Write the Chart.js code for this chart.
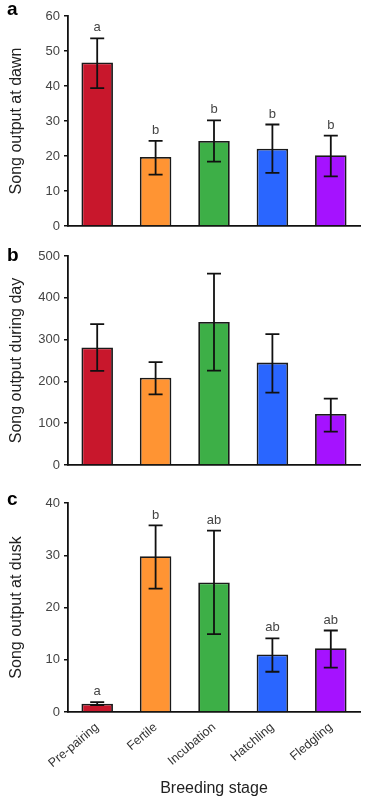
<!DOCTYPE html>
<html lang="en">
<head>
  <meta charset="UTF-8" />
  <title>Song output by breeding stage</title>
  <script src="https://cdn.jsdelivr.net/npm/chart.js"></script>
  <style>
    html, body { margin: 0; padding: 0; background: #fff; }
    body { width: 370px; height: 798px; position: relative; overflow: hidden; font-family: "Liberation Sans", Arial, sans-serif; }
    .panel { position: absolute; left: 0; width: 370px; }
    .tag { position: absolute; left: 7px; font-weight: bold; font-size: 19px; color: #000; }
  </style>
</head>
<body>
  <div class="panel" style="top:0;height:240px"><canvas id="dawnChart"></canvas></div>
  <div class="panel" style="top:240px;height:250px"><canvas id="dayChart"></canvas></div>
  <div class="panel" style="top:490px;height:308px"><canvas id="duskChart"></canvas></div>
  <div class="tag" style="top:-2px">a</div>
  <div class="tag" style="top:244px">b</div>
  <div class="tag" style="top:488px">c</div>

  <script>
    // data
    const stages = ["Pre-pairing", "Fertile", "Incubation", "Hatchling", "Fledgling"];
    const barColors = ["#c8172c", "#ff9433", "#3daf47", "#2a66ff", "#a512ff"];

    const dawnMean = [46.7, 19.7, 24.3, 22.1, 20.2];
    const dawnLow = [39.4, 14.7, 18.4, 15.2, 14.2];
    const dawnHigh = [53.6, 24.3, 30.2, 29.0, 25.8];
    const dawnLetters = ["a", "b", "b", "b", "b"];

    const dayMean = [281, 209, 342, 245, 122];
    const dayLow = [225, 169, 226, 173, 80];
    const dayHigh = [337, 246, 458, 313, 159];

    const duskMean = [1.6, 29.8, 24.8, 11.0, 12.2];
    const duskLow = [1.3, 23.6, 14.9, 7.7, 8.5];
    const duskHigh = [1.9, 35.7, 34.7, 14.1, 15.6];
    const duskLetters = ["a", "b", "ab", "ab", "ab"];

    const dawnTicks = [0, 10, 20, 30, 40, 50, 60];
    const dayTicks = [0, 100, 200, 300, 400, 500];
    const duskTicks = [0, 10, 20, 30, 40];

    const FONT = "'Liberation Sans', Arial, sans-serif";

    // error bars + significance letters
    const errorBars = {
      id: "errorBars",
      afterDatasetsDraw(chart, args, opts) {
        const { ctx, scales: { x, y } } = chart;
        ctx.save();
        ctx.strokeStyle = "#111";
        ctx.lineWidth = 1.8;
        opts.low.forEach((lo, i) => {
          const cx = x.getPixelForValue(i);
          const yl = y.getPixelForValue(lo);
          const yh = y.getPixelForValue(opts.high[i]);
          ctx.beginPath();
          ctx.moveTo(cx, yl); ctx.lineTo(cx, yh);
          ctx.moveTo(cx - 7, yl); ctx.lineTo(cx + 7, yl);
          ctx.moveTo(cx - 7, yh); ctx.lineTo(cx + 7, yh);
          ctx.stroke();
          if (opts.letters) {
            ctx.fillStyle = "#444";
            ctx.font = "13px " + FONT;
            ctx.textAlign = "center";
            ctx.textBaseline = "bottom";
            ctx.fillText(opts.letters[i], cx, yh - 4);
          }
        });
        ctx.restore();
      }
    };

    function makeChart(id, mean, low, high, letters, ticks, title, pad, showLabels) {
      const last = ticks[ticks.length - 1];
      return new Chart(document.getElementById(id), {
        type: "bar",
        data: {
          labels: stages,
          datasets: [{
            data: mean,
            backgroundColor: barColors,
            borderColor: "#1a1a1a",
            borderWidth: 1.8,
            barPercentage: 0.9,
            categoryPercentage: 0.6
          }]
        },
        options: {
          responsive: true,
          maintainAspectRatio: false,
          animation: false,
          layout: { padding: { top: pad.top, right: 10, bottom: pad.bottom, left: 0 } },
          plugins: {
            legend: { display: false },
            tooltip: { enabled: false },
            errorBars: { low, high, letters }
          },
          scales: {
            x: {
              grid: { display: false },
              border: { display: true, color: "#111", width: 1.8 },
              ticks: {
                display: showLabels,
                color: "#333",
                font: { family: FONT, size: 12.5 },
                minRotation: 40,
                maxRotation: 40,
                padding: 0
              },
              title: {
                display: showLabels,
                text: "Breeding stage",
                color: "#222",
                font: { family: FONT, size: 16 },
                padding: { top: 3, bottom: 0 }
              },
              afterFit: s => { s.height = pad.xHeight; }
            },
            y: {
              min: 0,
              max: last,
              afterBuildTicks: s => { s.ticks = ticks.map(v => ({ value: v })); },
              grid: { display: true, drawOnChartArea: false, drawTicks: true, tickLength: 4, color: "#111", lineWidth: 1.5 },
              border: { display: true, color: "#111", width: 1.8 },
              ticks: { color: "#444", font: { family: FONT, size: 13 }, padding: 4 },
              title: {
                display: true,
                text: title,
                color: "#222",
                font: { family: FONT, size: 16 },
                padding: { top: 7, bottom: 0 }
              },
              afterFit: s => { s.width = 68; }
            }
          }
        },
        plugins: [errorBars]
      });
    }

    makeChart("dawnChart", dawnMean, dawnLow, dawnHigh, dawnLetters, dawnTicks,
      "Song output at dawn", { top: 16, bottom: 14, xHeight: 0 }, false);
    makeChart("dayChart", dayMean, dayLow, dayHigh, null, dayTicks,
      "Song output during day", { top: 16, bottom: 25, xHeight: 0 }, false);
    makeChart("duskChart", duskMean, duskLow, duskHigh, duskLetters, duskTicks,
      "Song output at dusk", { top: 13, bottom: 0, xHeight: 86 }, true);
  </script>
</body>
</html>
